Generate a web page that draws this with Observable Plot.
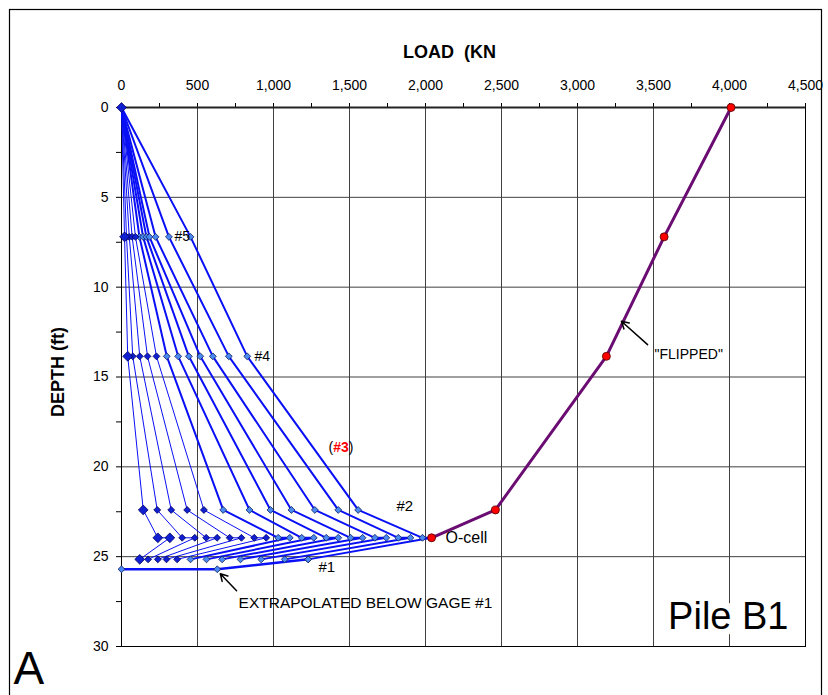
<!DOCTYPE html>
<html><head><meta charset="utf-8">
<script src="https://cdn.jsdelivr.net/npm/d3@7"></script>
<script src="https://cdn.jsdelivr.net/npm/@observablehq/plot@0.6"></script>
<style>
body{margin:0;background:#fff}
#chart svg{font-family:"Liberation Sans",Arial,sans-serif}
</style>
</head><body><div id="chart"></div>
<script>
// ---- Axis ticks ----
const loadTicks = [0,250,500,750,1000,1250,1500,1750,2000,2250,2500,2750,3000,3250,3500,3750,4000,4250,4500];
const loadLabels = [0,500,1000,1500,2000,2500,3000,3500,4000,4500];
const loadGrid = [500,1000,1500,2000,2500,3000,3500,4000];
const depthTicks = [0,2.5,5,7.5,10,12.5,15,17.5,20,22.5,25,27.5,30];
const depthLabels = [0,5,10,15,20,25,30];
const depthGrid = [5,10,15,20,25];

// ---- Gage depths (ft) ----
const depthTop = 0;
const depthG5 = 7.2;
const depthG4 = 13.85;
const depthG2 = 22.4;
const depthOcell = 23.95;
const depthG1 = 25.15;

// ---- Load distributions (kN), 12 load steps ----
const steps = [1,2,3,4,5,6,7,8,9,10,11,12];
const loadG5 = [20, 33, 51, 70, 92, 118, 142, 164, 184, 224, 312, 454];
const loadG4 = [41, 74, 120, 171, 230, 298, 373, 443, 518, 601, 706, 827];
const loadG2 = [143, 235, 327, 432, 542, 669, 842, 980, 1118, 1272, 1426, 1557];
const loadOcellUp = [239, 399, 557, 712, 873, 1031, 1186, 1347, 1507, 1667, 1821, 1980];
const loadOcellDown = [318, 482, 629, 789, 952, 1107, 1265, 1426, 1586, 1742, 1901, 2040];
const loadG1 = [120, 175, 239, 296, 366, 454, 559, 662, 783, 919, 1074, 1228];
// extrapolated below gage #1 (last step)
const extrapLoad = [1228, 630, 0];
const extrapDepth = [25.15, 25.7, 25.7];

// ---- "Flipped" equivalent top-down curve ----
const flipLoad = [4010, 3570, 3190, 2460, 2040];
const flipDepth = [0, 7.2, 13.85, 22.4, 23.95];

// ---- Annotations ----
const noteText = ["#5", "#4", "(#3)", "#2", "O-cell", "#1", "EXTRAPOLATED BELOW GAGE #1", "\"FLIPPED\""];
const noteLoad = [349, 875, 1362, 1809, 2132, 1296, 770, 3507];
const noteDepth = [7.2, 13.85, 18.9, 22.2, 23.95, 25.6, 27.56, 13.75];
const noteSize = [14, 14, 14, 15, 16, 15, 15.5, 14];
const arrowX1 = [757, 3461];
const arrowY1 = [26.9, 13.2];
const arrowX2 = [650, 3289];
const arrowY2 = [25.95, 11.9];

// ---- Build tables ----
const rows = [];
steps.forEach((s, i) => {
  const grp = s <= 5 ? "early" : "late";
  [[0, depthTop], [loadG5[i], depthG5], [loadG4[i], depthG4], [loadG2[i], depthG2],
   [loadOcellUp[i], depthOcell], [loadOcellDown[i], depthOcell], [loadG1[i], depthG1]]
   .forEach(([load, depth]) => rows.push({step: s, grp, load, depth}));
});
const early = rows.filter(d => d.grp === "early");
const late = rows.filter(d => d.grp === "late");
const first = rows.filter(d => d.step === 1);
const extrap = extrapLoad.map((load, i) => ({load, depth: extrapDepth[i]}));
const flip = flipLoad.map((load, i) => ({load, depth: flipDepth[i]}));
const notes = noteText.map((t, i) => ({t, load: noteLoad[i], depth: noteDepth[i], size: noteSize[i]}));
const arrows = arrowX1.map((x1, i) => ({x1, y1: arrowY1[i], x2: arrowX2[i], y2: arrowY2[i]}));

const blue = "#0a10f5";
const fmt = d3.format(",");

const chart = Plot.plot({
  width: 828, height: 695,
  marginLeft: 121, marginRight: 23, marginTop: 107, marginBottom: 49,
  style: {fontFamily: "'Liberation Sans', Arial, sans-serif", fontSize: "14px", color: "#000", background: "#fff", overflow: "visible"},
  x: {domain: [0, 4500], axis: "top", ticks: loadTicks, tickSize: 5, tickPadding: 13,
      tickFormat: d => loadLabels.includes(d) ? fmt(d) : "", label: null},
  y: {domain: [0, 30], reverse: true, ticks: depthTicks, tickSize: 5, tickPadding: 8,
      tickFormat: d => depthLabels.includes(d) ? String(d) : "", label: null},
  marks: [
    Plot.ruleX(loadGrid, {stroke: "#404040", strokeWidth: 1}),
    Plot.ruleY(depthGrid, {stroke: "#404040", strokeWidth: 1}),
    Plot.text(["Pile B1"], {frameAnchor: "bottom-right", dx: -17, dy: -18, fontSize: 38, fill: "#000", stroke: "#fff", strokeWidth: 14, textAnchor: "end"}),
    Plot.frame({stroke: "#000", strokeWidth: 1}),
    Plot.ruleY([0], {stroke: "#222", strokeWidth: 2}),
    // load distribution lines
    Plot.line(early, {x: "load", y: "depth", z: "step", stroke: blue, strokeWidth: 1}),
    Plot.line(late, {x: "load", y: "depth", z: "step", stroke: blue, strokeWidth: 2}),
    Plot.line(extrap, {x: "load", y: "depth", stroke: blue, strokeWidth: 2.5}),
    // markers
    Plot.dot(late, {x: "load", y: "depth", symbol: "diamond2", r: 3.1, fill: "#4a88f2", stroke: "#10205a", strokeWidth: 0.8}),
    Plot.dot(extrap, {x: "load", y: "depth", symbol: "diamond2", r: 3.1, fill: "#4a88f2", stroke: "#10205a", strokeWidth: 0.8}),
    Plot.dot(early, {x: "load", y: "depth", symbol: "diamond2", r: 3.1, fill: "#1020d0", stroke: "#000060", strokeWidth: 0.8}),
    Plot.dot(first, {x: "load", y: "depth", symbol: "diamond2", r: 4.4, fill: "#1020d0", stroke: "#000060", strokeWidth: 0.8}),
    // flipped curve
    Plot.line(flip, {x: "load", y: "depth", stroke: "#6a0c72", strokeWidth: 3}),
    Plot.dot(flip, {x: "load", y: "depth", r: 4, fill: "#ff0000", stroke: "#4a0000", strokeWidth: 0.8}),
    // annotations
    Plot.text(notes, {x: "load", y: "depth", text: "t", fontSize: "size", textAnchor: "start", fill: "#000"}),
    Plot.arrow(arrows, {x1: "x1", y1: "y1", x2: "x2", y2: "y2", stroke: "#000", strokeWidth: 1.5, headLength: 8}),
    Plot.text(["LOAD  (KN"], {frameAnchor: "top", dx: -14, dy: -62, fontSize: 18, fontWeight: "bold", textAnchor: "middle"}),
    Plot.text(["DEPTH (ft)"], {frameAnchor: "left", dx: -63, dy: -5, rotate: -90, fontSize: 18, fontWeight: "bold", textAnchor: "middle"}),
    Plot.text(["A"], {frameAnchor: "bottom-left", dx: -108, dy: 37, fontSize: 46, textAnchor: "start"}),
    Plot.frame({insetLeft: -112, insetTop: -98, insetRight: -16, insetBottom: -80, stroke: "#000", strokeWidth: 1.2})
  ]
});
document.getElementById("chart").appendChild(chart);

// mixed colour for the (#3) label
d3.select(chart).selectAll("text").filter(function() { return this.textContent === "(#3)"; })
  .each(function() {
    const t = d3.select(this);
    t.text(null);
    t.append("tspan").text("(");
    t.append("tspan").attr("fill", "#ff0000").attr("font-weight", "bold").text("#3");
    t.append("tspan").text(")");
  });
</script>
</body></html>
